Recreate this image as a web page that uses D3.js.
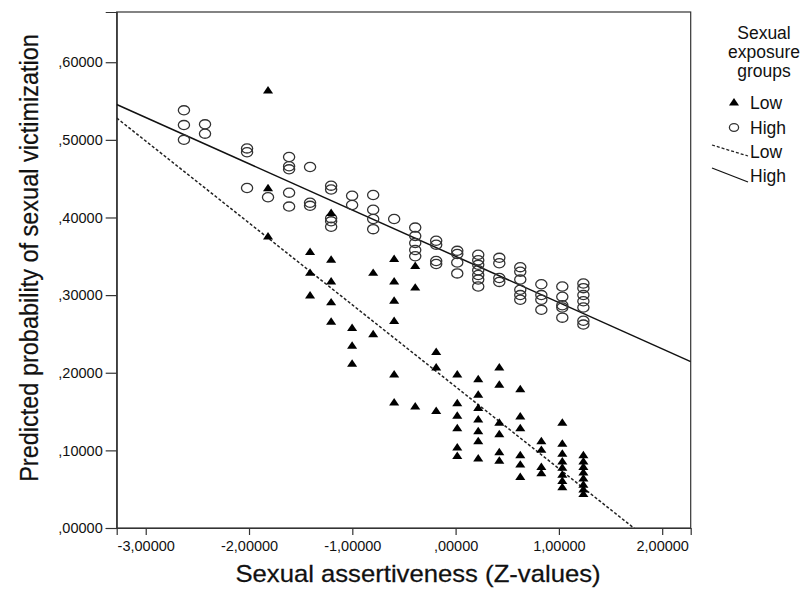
<!DOCTYPE html>
<html>
<head>
<meta charset="utf-8">
<script src="https://cdn.jsdelivr.net/npm/d3@7"></script>
<style>
  html, body { margin: 0; padding: 0; background: #fff; }
  text { font-family: "Liberation Sans", Arial, sans-serif; fill: #111; }
</style>
</head>
<body>
<svg id="chart" width="805" height="590"></svg>
<script>
// Sexual assertiveness (Z) positions and predicted probabilities, low exposure group
const lowX = [
  -1.816, -1.816, -1.816,
  -1.409, -1.409, -1.409,
  -1.205, -1.205, -1.205, -1.205, -1.205,
  -1.002, -1.002, -1.002,
  -0.798, -0.798,
  -0.595, -0.595, -0.595, -0.595, -0.595, -0.595,
  -0.391, -0.391, -0.391,
  -0.188, -0.188, -0.188,
  0.016, 0.016, 0.016, 0.016, 0.016, 0.016,
  0.219, 0.219, 0.219, 0.219, 0.219, 0.219, 0.219,
  0.423, 0.423, 0.423, 0.423, 0.423, 0.423,
  0.626, 0.626, 0.626, 0.626, 0.626, 0.626,
  0.830, 0.830, 0.830, 0.830,
  1.033, 1.033, 1.033, 1.033, 1.033, 1.033, 1.033, 1.033,
  1.237, 1.237, 1.237, 1.237, 1.237, 1.237, 1.237, 1.237
];
const lowY = [
  0.563, 0.437, 0.375,
  0.355, 0.328, 0.299,
  0.405, 0.345, 0.317, 0.290, 0.265,
  0.257, 0.234, 0.211,
  0.328, 0.249,
  0.346, 0.317, 0.292, 0.266, 0.197, 0.161,
  0.337, 0.309, 0.156,
  0.226, 0.206, 0.150,
  0.197, 0.160, 0.144, 0.128, 0.103, 0.092,
  0.191, 0.171, 0.154, 0.139, 0.124, 0.111, 0.089,
  0.206, 0.184, 0.135, 0.120, 0.097, 0.086,
  0.178, 0.143, 0.128, 0.093, 0.081, 0.065,
  0.111, 0.100, 0.078, 0.070,
  0.135, 0.108, 0.095, 0.085, 0.077, 0.068, 0.060, 0.052,
  0.093, 0.085, 0.078, 0.071, 0.063, 0.055, 0.049, 0.043
];

// High exposure group
const highX = [
  -2.630, -2.630, -2.630,
  -2.426, -2.426,
  -2.019, -2.019, -2.019,
  -1.816,
  -1.612, -1.612, -1.612, -1.612, -1.612,
  -1.409, -1.409, -1.409,
  -1.205, -1.205, -1.205, -1.205, -1.205,
  -1.002, -1.002,
  -0.798, -0.798, -0.798, -0.798,
  -0.595,
  -0.391, -0.391, -0.391, -0.391, -0.391,
  -0.188, -0.188, -0.188, -0.188,
  0.016, 0.016, 0.016, 0.016,
  0.219, 0.219, 0.219, 0.219, 0.219, 0.219, 0.219,
  0.423, 0.423, 0.423, 0.423,
  0.626, 0.626, 0.626, 0.626, 0.626, 0.626,
  0.830, 0.830, 0.830, 0.830,
  1.033, 1.033, 1.033, 1.033, 1.033,
  1.237, 1.237, 1.237, 1.237, 1.237, 1.237, 1.237
];
const highY = [
  0.538, 0.519, 0.500,
  0.520, 0.508,
  0.489, 0.484, 0.438,
  0.426,
  0.478, 0.466, 0.462, 0.432, 0.414,
  0.465, 0.419, 0.415,
  0.441, 0.436, 0.399, 0.395, 0.388,
  0.428, 0.416,
  0.429, 0.410, 0.398, 0.385,
  0.398,
  0.387, 0.376, 0.367, 0.358, 0.350,
  0.370, 0.365, 0.344, 0.340,
  0.357, 0.353, 0.342, 0.328,
  0.352, 0.345, 0.339, 0.332, 0.326, 0.320, 0.311,
  0.348, 0.341, 0.322, 0.317,
  0.336, 0.330, 0.320, 0.307, 0.300, 0.294,
  0.314, 0.300, 0.294, 0.281,
  0.311, 0.298, 0.287, 0.284, 0.271,
  0.315, 0.309, 0.300, 0.292, 0.284, 0.267, 0.262
];

// Fitted linear trends: [intercept, slope]
const lowFit = [0.182, -0.1055];
const highFit = [0.350, -0.0596];

const xTicks = [-3, -2, -1, 0, 1, 2];
const yTicks = [0, 0.1, 0.2, 0.3, 0.4, 0.5, 0.6];
const legendTitle = ["Sexual", "exposure", "groups"];
const groupNames = ["Low", "High"];

const xDomain = [-3.281, 2.276];
const yDomain = [0, 0.6647];

// Comma-decimal number format with five decimals
const fmt = v => {
  const s = Math.abs(v).toFixed(5).replace(".", ",");
  const body = s.startsWith("0,") ? s.slice(1) : s;
  return (v < 0 ? "-" : "") + body;
};

const svg = d3.select("#chart");
const plotLeft = 116.7, plotRight = 690.7, plotTop = 12, plotBottom = 528;

const x = d3.scaleLinear().domain(xDomain).range([plotLeft, plotRight]);
const y = d3.scaleLinear().domain(yDomain).range([plotBottom, plotTop]);

svg.append("rect").attr("width", 805).attr("height", 590).attr("fill", "#fff");

svg.append("defs").append("clipPath").attr("id", "plotClip")
  .append("rect").attr("x", plotLeft).attr("y", plotTop)
  .attr("width", plotRight - plotLeft).attr("height", plotBottom - plotTop);

// Frame of the plot area
svg.append("rect")
  .attr("x", plotLeft).attr("y", plotTop)
  .attr("width", plotRight - plotLeft).attr("height", plotBottom - plotTop)
  .attr("fill", "none").attr("stroke", "#333").attr("stroke-width", 1.2);

// Axes
const xAxis = svg.append("g").attr("transform", `translate(0,${plotBottom})`)
  .call(d3.axisBottom(x).tickValues(xTicks).tickFormat(fmt).tickSize(7).tickPadding(6));
const yAxis = svg.append("g").attr("transform", `translate(${plotLeft},0)`)
  .call(d3.axisLeft(y).tickValues(yTicks).tickFormat(fmt).tickSize(11).tickPadding(3));

[xAxis, yAxis].forEach(g => {
  g.select(".domain").attr("stroke", "#333").attr("stroke-width", 1.2);
  g.selectAll(".tick line").attr("stroke", "#333").attr("stroke-width", 1.2);
  g.selectAll(".tick text")
    .attr("font-family", "Liberation Sans, Arial, sans-serif")
    .attr("font-size", 14.5).attr("fill", "#222");
});

// Axis titles
svg.append("text")
  .attr("transform", "translate(418,582) scale(1.07,1)")
  .attr("text-anchor", "middle").attr("font-size", 24)
  .attr("stroke", "#111").attr("stroke-width", 0.25)
  .text("Sexual assertiveness (Z-values)");

svg.append("text")
  .attr("transform", "translate(38,258) rotate(-90) scale(1,1.08)")
  .attr("text-anchor", "middle").attr("font-size", 23.5)
  .attr("stroke", "#111").attr("stroke-width", 0.2)
  .text("Predicted probability of sexual victimization");

// Trend lines
const plot = svg.append("g").attr("clip-path", "url(#plotClip)");
const fitLine = f => d3.line()
  .x(d => x(d))
  .y(d => y(f[0] + f[1] * d));

plot.append("path")
  .datum(xDomain)
  .attr("d", fitLine(lowFit))
  .attr("fill", "none").attr("stroke", "#222").attr("stroke-width", 1.5)
  .attr("stroke-dasharray", "3,2");

plot.append("path")
  .datum(xDomain)
  .attr("d", fitLine(highFit))
  .attr("fill", "none").attr("stroke", "#111").attr("stroke-width", 1.5);

// Markers
const tri = d3.symbol().type(d3.symbolTriangle).size(40);

plot.selectAll(".high").data(d3.range(highX.length)).join("ellipse")
  .attr("class", "high")
  .attr("cx", i => x(highX[i])).attr("cy", i => y(highY[i]))
  .attr("rx", 5.6).attr("ry", 4.6)
  .attr("fill", "none").attr("stroke", "#333").attr("stroke-width", 1.3);

plot.selectAll(".low").data(d3.range(lowX.length)).join("path")
  .attr("class", "low")
  .attr("d", tri)
  .attr("transform", i => `translate(${x(lowX[i])},${y(lowY[i])}) scale(1.05,0.9)`)
  .attr("fill", "#000");

// Legend
const lg = svg.append("g");
legendTitle.forEach((t, i) => {
  lg.append("text")
    .attr("x", 764).attr("y", 39 + i * 19)
    .attr("text-anchor", "middle").attr("font-size", 17.5)
    .attr("fill", "#333")
    .text(t);
});

lg.append("path").attr("d", tri)
  .attr("transform", "translate(734,103) scale(1.05,0.9)").attr("fill", "#000");
lg.append("ellipse").attr("cx", 734).attr("cy", 127.5)
  .attr("rx", 4.6).attr("ry", 3.8)
  .attr("fill", "none").attr("stroke", "#333").attr("stroke-width", 1.3);
lg.append("line").attr("x1", 712).attr("y1", 145).attr("x2", 748).attr("y2", 156)
  .attr("stroke", "#222").attr("stroke-width", 1.3).attr("stroke-dasharray", "3,2");
lg.append("line").attr("x1", 712).attr("y1", 168).attr("x2", 748).attr("y2", 182)
  .attr("stroke", "#111").attr("stroke-width", 1.3);

const itemBase = [109, 134, 158, 182];
[groupNames[0], groupNames[1], groupNames[0], groupNames[1]].forEach((t, i) => {
  lg.append("text")
    .attr("x", 750).attr("y", itemBase[i])
    .attr("font-size", 17.5).attr("fill", "#222")
    .text(t);
});
</script>
</body>
</html>
